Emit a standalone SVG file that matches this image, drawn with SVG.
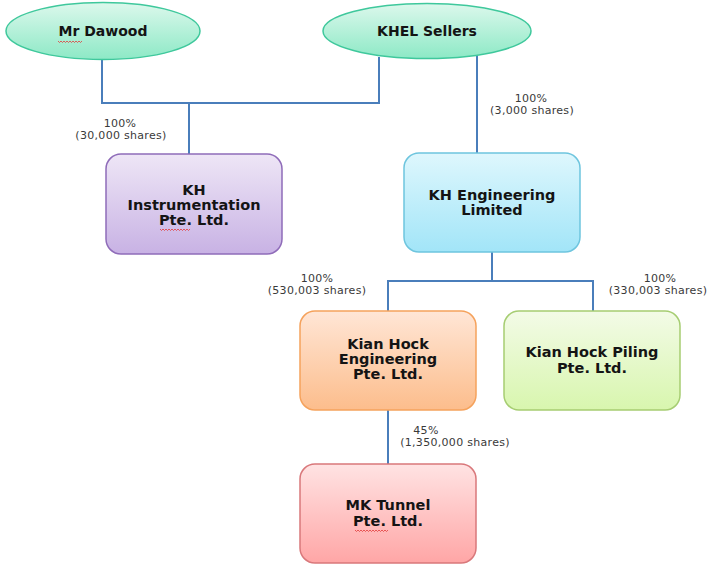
<svg xmlns="http://www.w3.org/2000/svg" width="710" height="565" viewBox="0 0 710 565">
<style>
.n{font-family:"DejaVu Sans",Verdana,sans-serif;font-weight:bold;font-size:14.5px;fill:#141414;text-anchor:middle}
.e{font-size:14px}
.l{font-family:"DejaVu Sans",Verdana,sans-serif;font-size:11px;letter-spacing:0.3px;fill:#3a3a3a;text-anchor:middle}
.c{fill:none;stroke:#4a7ebb;stroke-width:2}
.sq{fill:none;stroke:#e23a3a;stroke-width:0.8}
</style>
<defs>
<linearGradient id="gE" x1="0" y1="0" x2="0" y2="1"><stop offset="0" stop-color="#dcf8ec"/><stop offset="1" stop-color="#8de9c6"/></linearGradient>
<linearGradient id="gP" x1="0" y1="0" x2="0" y2="1"><stop offset="0" stop-color="#eee6f6"/><stop offset="1" stop-color="#c8b2e4"/></linearGradient>
<linearGradient id="gB" x1="0" y1="0" x2="0" y2="1"><stop offset="0" stop-color="#def7fd"/><stop offset="1" stop-color="#a2e5f8"/></linearGradient>
<linearGradient id="gO" x1="0" y1="0" x2="0" y2="1"><stop offset="0" stop-color="#ffe6d6"/><stop offset="1" stop-color="#fcbd8c"/></linearGradient>
<linearGradient id="gG" x1="0" y1="0" x2="0" y2="1"><stop offset="0" stop-color="#f3fbe7"/><stop offset="1" stop-color="#d8f6ae"/></linearGradient>
<linearGradient id="gR" x1="0" y1="0" x2="0" y2="1"><stop offset="0" stop-color="#ffe3e3"/><stop offset="1" stop-color="#ffa6a6"/></linearGradient>
</defs>
<rect width="710" height="565" fill="#fff"/>
<g id="connectors">
<polyline class="c" points="102,59 102,103 379,103 379,57"/>
<line class="c" x1="189" y1="103" x2="189" y2="155"/>
<line class="c" x1="477" y1="56" x2="477" y2="154"/>
<polyline class="c" points="388,312 388,281 593,281 593,312"/>
<line class="c" x1="492" y1="252" x2="492" y2="281"/>
<line class="c" x1="388" y1="410" x2="388" y2="465"/>
</g>
<g id="labels">
<text class="l" x="120" y="127">100%</text>
<text class="l" x="121" y="139">(30,000 shares)</text>
<text class="l" x="531" y="102">100%</text>
<text class="l" x="532" y="114">(3,000 shares)</text>
<text class="l" x="317" y="282">100%</text>
<text class="l" x="317" y="294">(530,003 shares)</text>
<text class="l" x="660" y="282">100%</text>
<text class="l" x="658" y="294">(330,003 shares)</text>
<text class="l" x="426" y="434">45%</text>
<text class="l" x="455" y="446">(1,350,000 shares)</text>
</g>
<g id="mr-dawood">
<ellipse cx="103" cy="31" rx="97" ry="28.5" fill="url(#gE)" stroke="#3fc89c" stroke-width="1.5"/>
<text class="n e" x="103" y="36">Mr Dawood</text>
<path class="sq" d="M58,41 l1.5,1.5 l1.5,-1.5 l1.5,1.5 l1.5,-1.5 l1.5,1.5 l1.5,-1.5 l1.5,1.5 l1.5,-1.5 l1.5,1.5 l1.5,-1.5 l1.5,1.5 l1.5,-1.5 l1.5,1.5 l1.5,-1.5 l1.5,1.5 l1.5,-1.5"/>
</g>
<g id="khel-sellers">
<ellipse cx="427" cy="31" rx="104" ry="27.5" fill="url(#gE)" stroke="#3fc89c" stroke-width="1.5"/>
<text class="n e" x="427" y="36">KHEL Sellers</text>
</g>
<g id="kh-instrumentation">
<rect x="106" y="154" width="176" height="100" rx="15" fill="url(#gP)" stroke="#8f6cb9" stroke-width="1.5"/>
<text class="n" x="194" y="195">KH</text>
<text class="n" x="194" y="210">Instrumentation</text>
<text class="n" x="194" y="225">Pte. Ltd.</text>
<path class="sq" d="M160,229 l1.5,1.5 l1.5,-1.5 l1.5,1.5 l1.5,-1.5 l1.5,1.5 l1.5,-1.5 l1.5,1.5 l1.5,-1.5 l1.5,1.5 l1.5,-1.5 l1.5,1.5 l1.5,-1.5 l1.5,1.5 l1.5,-1.5 l1.5,1.5 l1.5,-1.5 l1.5,1.5 l1.5,-1.5 l1.5,1.5 l1.5,-1.5"/>
</g>
<g id="kh-engineering">
<rect x="404" y="153" width="176" height="99" rx="15" fill="url(#gB)" stroke="#6ec5de" stroke-width="1.5"/>
<text class="n" x="492" y="200">KH Engineering</text>
<text class="n" x="492" y="215">Limited</text>
</g>
<g id="kian-hock-engineering">
<rect x="300" y="311" width="176" height="99" rx="15" fill="url(#gO)" stroke="#f5a25c" stroke-width="1.5"/>
<text class="n" x="388" y="349">Kian Hock</text>
<text class="n" x="388" y="364">Engineering</text>
<text class="n" x="388" y="379">Pte. Ltd.</text>
</g>
<g id="kian-hock-piling">
<rect x="504" y="311" width="176" height="99" rx="15" fill="url(#gG)" stroke="#a6cd72" stroke-width="1.5"/>
<text class="n" x="592" y="357">Kian Hock Piling</text>
<text class="n" x="592" y="373">Pte. Ltd.</text>
</g>
<g id="mk-tunnel">
<rect x="300" y="464" width="176" height="99" rx="15" fill="url(#gR)" stroke="#d9787b" stroke-width="1.5"/>
<text class="n" x="388" y="510">MK Tunnel</text>
<text class="n" x="388" y="526">Pte. Ltd.</text>
<path class="sq" d="M355,530 l1.5,1.5 l1.5,-1.5 l1.5,1.5 l1.5,-1.5 l1.5,1.5 l1.5,-1.5 l1.5,1.5 l1.5,-1.5 l1.5,1.5 l1.5,-1.5 l1.5,1.5 l1.5,-1.5 l1.5,1.5 l1.5,-1.5 l1.5,1.5 l1.5,-1.5 l1.5,1.5 l1.5,-1.5 l1.5,1.5 l1.5,-1.5 l1.5,1.5 l1.5,-1.5"/>
</g>
</svg>
